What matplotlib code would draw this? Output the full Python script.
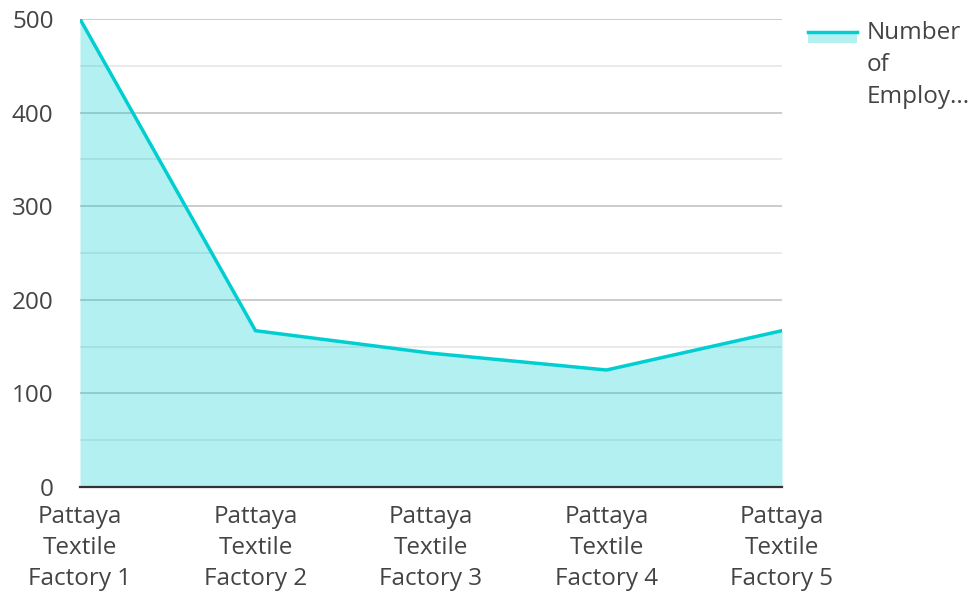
import matplotlib
matplotlib.use('Agg')
import matplotlib.pyplot as plt
from matplotlib.patches import Rectangle
from matplotlib.lines import Line2D

plt.rcParams['font.family'] = ['Open Sans', 'DejaVu Sans']

# data
factories = ['Pattaya\nTextile\nFactory 1', 'Pattaya\nTextile\nFactory 2',
             'Pattaya\nTextile\nFactory 3', 'Pattaya\nTextile\nFactory 4',
             'Pattaya\nTextile\nFactory 5']
employees = [500, 167, 143, 125, 167]
series_name = 'Number\nof\nEmploy...'

line_color = '#00CED1'
text_color = '#444444'
fs = 17.5

fig = plt.figure(figsize=(9.72, 5.91), dpi=100)
ax = fig.add_axes([80 / 972, 1 - 487 / 591, 702 / 972, 468 / 591])

x = list(range(len(factories)))
ax.fill_between(x, employees, 0, color=line_color, alpha=0.3, lw=0, zorder=3)
ax.plot(x, employees, color=line_color, lw=2.5, zorder=4, solid_joinstyle='miter')

ax.set_xlim(0, len(factories) - 1)
ax.set_ylim(0, 500)
ax.set_yticks([0, 100, 200, 300, 400, 500])
ax.set_yticks([50, 150, 250, 350, 450], minor=True)
ax.set_xticks(x)
ax.set_xticklabels(factories, fontsize=fs, color=text_color, linespacing=1.39)
ax.tick_params(axis='y', labelsize=fs, labelcolor=text_color, length=0, which='both', pad=19)
ax.tick_params(axis='x', length=0, pad=13)

ax.grid(axis='y', which='major', color='#c8c8c8', lw=1.3, zorder=1)
ax.grid(axis='y', which='minor', color='#e8e8e8', lw=1.3, zorder=1)
ax.set_axisbelow(True)

for s in ['top', 'right', 'left']:
    ax.spines[s].set_visible(False)
ax.spines['bottom'].set_color('#333333')
ax.spines['bottom'].set_linewidth(1.6)
ax.spines['bottom'].set_zorder(5)

# legend drawn by hand in figure pixels
W, H = 972, 591
fig.add_artist(Rectangle((808 / W, 1 - 43 / H), 49 / W, 12 / H, transform=fig.transFigure,
                         facecolor=line_color, alpha=0.3, lw=0))
fig.add_artist(Line2D([808 / W, 857 / W], [1 - 32 / H, 1 - 32 / H], transform=fig.transFigure,
                      color=line_color, lw=2.5))
fig.text(867 / W, 1 - 21 / H, series_name, fontsize=fs, color=text_color,
         va='top', ha='left', linespacing=1.45)

fig.savefig('out.png', dpi=100)
